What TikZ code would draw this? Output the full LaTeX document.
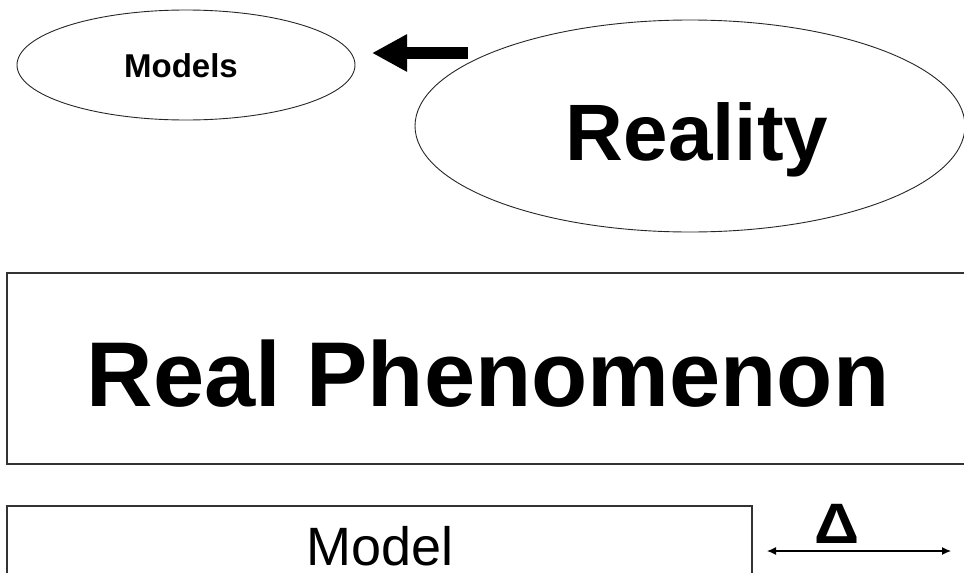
\documentclass[tikz,border=0pt]{standalone}
\usepackage{fontspec}
\setmainfont{Liberation Sans}
\usetikzlibrary{shapes.geometric,arrows.meta}
\begin{document}
\begin{tikzpicture}[x=1pt,y=-1pt,
  oval/.style={ellipse,draw=black!85,line width=0.9pt,inner sep=0pt},
  panel/.style={draw=black!80,line width=1.3pt},
  caption/.style={anchor=base,inner sep=0pt,font=\bfseries}]
\useasboundingbox (0,0) rectangle (964,573);

% top row: the two ovals and the block arrow between them
\node[oval,minimum width=338pt,minimum height=110pt] (models) at (186,65) {};
\node[caption,font=\fontsize{33}{33}\selectfont\bfseries] (modelstxt) at (181,77) {Models};
\node[oval,minimum width=550pt,minimum height=212pt] (reality) at (690,126) {};
\node[caption,font=\fontsize{80}{80}\selectfont\bfseries] (realitytxt) at (697,160) {Reality};
\coordinate (arrtail) at (468,53);
\coordinate (arrtip) at (372,53);
\draw[line width=12pt,-{Triangle[length=35pt,width=35pt]}] (arrtail) -- (arrtip);

% middle panel
\draw[panel] (7,273) rectangle (975,464);
\node[caption,font=\fontsize{92}{92}\selectfont\bfseries] (phen) at (488,406) {Real Phenomenon};

% bottom panel and the difference marker
\draw[panel] (7,506) rectangle (752,590);
\node[anchor=base,inner sep=0pt,font=\fontsize{54}{54}\selectfont] (model) at (380,565) {Model};
\node[caption,font=\fontsize{57}{57}\selectfont\bfseries,xscale=1.1] (delta) at (837,543) {Δ};
\coordinate (dl) at (767,551);
\coordinate (dr) at (951,551);
\draw[line width=1.2pt,{Latex[length=9pt,width=8pt]}-{Latex[length=9pt,width=8pt]}] (dl) -- (dr);
\end{tikzpicture}
\end{document}
